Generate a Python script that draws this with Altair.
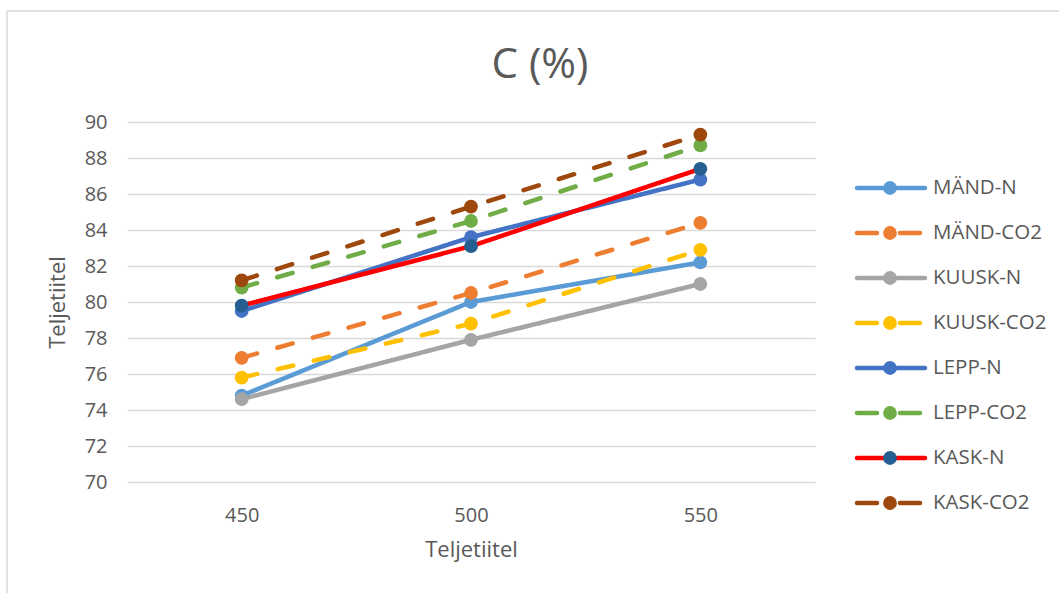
import altair as alt
import pandas as pd

# Carbon content (%) by Teljetiitel level for each series
levels = ["450", "500", "550"]
series = ["MÄND-N", "MÄND-CO2", "KUUSK-N", "KUUSK-CO2",
          "LEPP-N", "LEPP-CO2", "KASK-N", "KASK-CO2"]

mand_n = [74.8, 80.0, 82.2]
mand_co2 = [76.9, 80.5, 84.4]
kuusk_n = [74.6, 77.9, 81.0]
kuusk_co2 = [75.8, 78.8, 82.9]
lepp_n = [79.5, 83.6, 86.8]
lepp_co2 = [80.8, 84.5, 88.7]
kask_n = [79.8, 83.1, 87.4]
kask_co2 = [81.2, 85.3, 89.3]

values = [mand_n, mand_co2, kuusk_n, kuusk_co2, lepp_n, lepp_co2, kask_n, kask_co2]

line_colors = ["#5B9BD5", "#ED7D31", "#A5A5A5", "#FFC000",
               "#4472C4", "#70AD47", "#FF0000", "#9E480E"]
dot_colors = ["#5B9BD5", "#ED7D31", "#A5A5A5", "#FFC000",
              "#4472C4", "#70AD47", "#255E91", "#9E480E"]
dashes = [[1, 0] if s.endswith("-N") else [16, 21] for s in series]

rows = []
for s, vals in zip(series, values):
    for lv, v in zip(levels, vals):
        rows.append({"series": s, "level": lv, "value": v})
df = pd.DataFrame(rows)
legend_df = pd.DataFrame({"series": series,
                          "kind": ["N" if s.endswith("-N") else "CO2" for s in series]})

FONT = "Open Sans"
TXT = "#595959"
GRID = "#D9D9D9"
W, H = 688, 360

x_scale = alt.Scale(type="point", domain=levels, padding=0.5)
y_scale = alt.Scale(domain=[70, 90], nice=False, zero=False)
x_axis = alt.Axis(title="Teljetiitel", labelAngle=0, ticks=False, domain=False,
                  grid=False, labelPadding=23, titlePadding=14)
y_axis = alt.Axis(title="Teljetiitel", values=list(range(70, 91, 2)),
                  ticks=False, domain=False, labelPadding=20, titlePadding=15,
                  grid=True, labelOverlap=False)

x_enc = alt.X("level:O", scale=x_scale, axis=x_axis)
y_enc = alt.Y("value:Q", scale=y_scale, axis=y_axis)

line_color = alt.Color("series:N", scale=alt.Scale(domain=series, range=line_colors), legend=None)
dot_color = alt.Color("series:N", scale=alt.Scale(domain=series, range=dot_colors), legend=None)

base = alt.Chart(df)

lines = base.mark_line(strokeWidth=4.5, strokeCap="round", strokeJoin="round").encode(
    x=x_enc, y=y_enc, color=line_color,
    strokeDash=alt.StrokeDash("series:N", scale=alt.Scale(domain=series, range=dashes), legend=None),
    order=alt.Order("level:O"),
)

dots = base.mark_circle(size=190, opacity=1).encode(x=x_enc, y=y_enc, color=dot_color)

plot = alt.layer(lines, dots).resolve_scale(color="independent")

# Legend drawn beside the plot: a short line, a dot and the series name
leg_y = alt.Y("series:N", scale=alt.Scale(type="point", domain=series, range=[66, 381], padding=0),
              axis=None)
leg = alt.Chart(legend_df)
leg_solid = leg.transform_filter("datum.kind == 'N'").mark_rule(strokeWidth=4.5, strokeCap="round").encode(
    x=alt.value(730), x2=alt.value(798), y=leg_y, color=line_color,
)
leg_dash = leg.transform_filter("datum.kind == 'CO2'").mark_rule(
    strokeWidth=4.5, strokeCap="round", strokeDash=[20, 23]).encode(
    x=alt.value(730), x2=alt.value(794), y=leg_y, color=line_color,
)
leg_dot = leg.mark_circle(size=190, opacity=1).encode(x=alt.value(763), y=leg_y, color=dot_color)
leg_txt = leg.mark_text(align="left", baseline="middle", font=FONT, fontSize=20.5, color=TXT).encode(
    x=alt.value(806), y=leg_y, text="series:N",
)
legend = alt.layer(alt.layer(leg_solid, leg_dash), leg_dot, leg_txt).resolve_scale(color="independent")

one = pd.DataFrame({"label": ["C (%)"]})
frame = alt.Chart(one).mark_rect(
    fill=None, stroke=GRID, strokeWidth=1.5).encode(
    x=alt.value(-120), x2=alt.value(960), y=alt.value(-111), y2=alt.value(500),
)
title = alt.Chart(one).mark_text(
    align="center", baseline="alphabetic", font=FONT, fontSize=42, color=TXT).encode(
    x=alt.value(413), y=alt.value(-44), text="label:N",
)

chart = alt.layer(frame, title, plot, legend).resolve_scale(
    x="independent", y="independent", color="independent", strokeDash="independent"
).properties(
    width=W, height=H,
    autosize=alt.AutoSizeParams(type="none"),
    padding={"left": 127, "top": 122, "right": 244, "bottom": 111},
).configure(background="white").configure_view(stroke=None).configure_axis(
    labelFont=FONT, titleFont=FONT, labelFontSize=20, titleFontSize=22,
    labelColor=TXT, titleColor=TXT, titleFontWeight="normal",
    gridColor=GRID, gridWidth=1.5,
)

chart.save("out.html", embed_options={"renderer": "svg", "actions": False})
